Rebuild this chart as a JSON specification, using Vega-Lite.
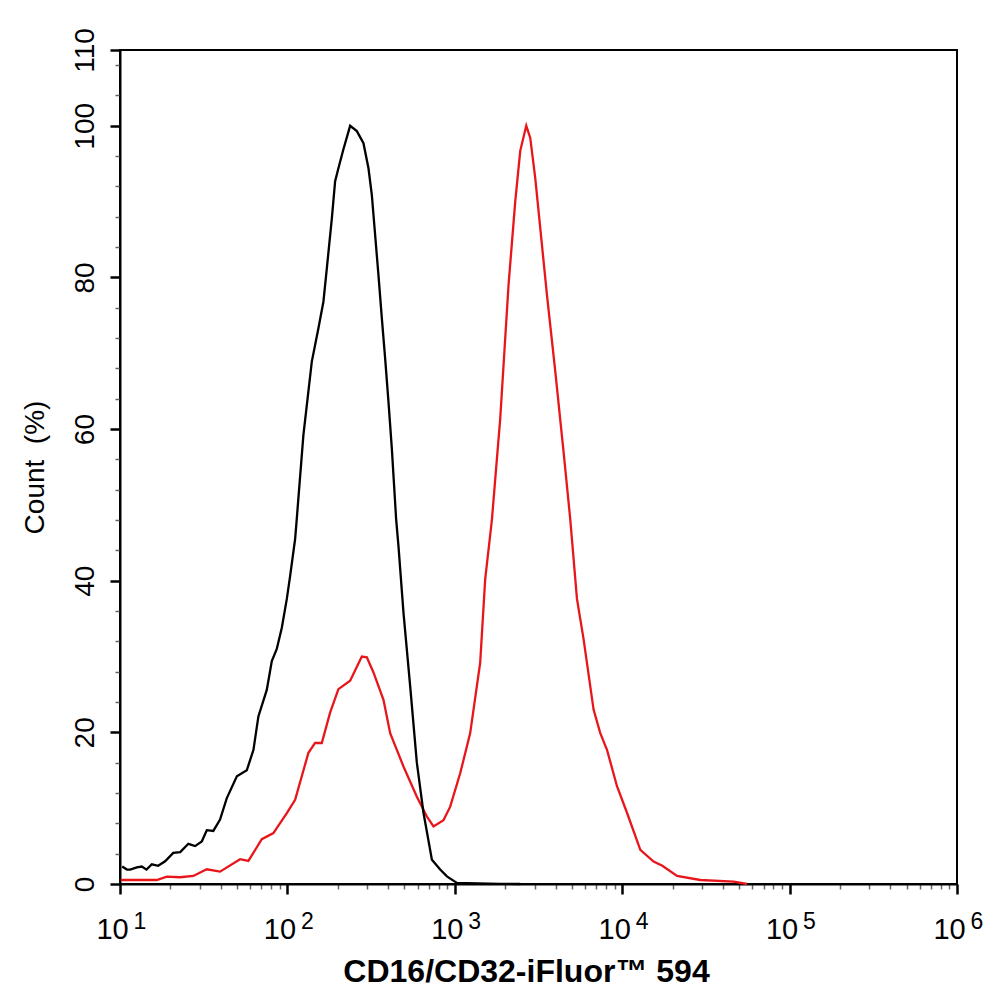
{
  "$schema": "https://vega.github.io/schema/vega-lite/v6.json",
  "width": 837,
  "height": 834,
  "autosize": "none",
  "padding": {"left": 120, "top": 50, "right": 37, "bottom": 118},
  "background": "white",
  "config": {
    "view": {"stroke": "black", "strokeWidth": 2},
    "font": "Liberation Sans",
    "axis": {"labelFont": "Liberation Sans", "titleFont": "Liberation Sans", "labelColor": "black", "titleColor": "black", "grid": false}
  },
  "datasets": {
    "control": [
      {"intensity": 10.3, "pct": 2.3}, {"intensity": 11.0, "pct": 1.9}, {"intensity": 11.5, "pct": 1.9},
      {"intensity": 12.6, "pct": 2.2}, {"intensity": 13.5, "pct": 2.3}, {"intensity": 14.4, "pct": 1.9},
      {"intensity": 15.5, "pct": 2.6}, {"intensity": 16.9, "pct": 2.4}, {"intensity": 18.6, "pct": 3.0},
      {"intensity": 20.8, "pct": 4.1}, {"intensity": 22.9, "pct": 4.2}, {"intensity": 25.6, "pct": 5.3},
      {"intensity": 28.1, "pct": 5.0}, {"intensity": 30.8, "pct": 5.6}, {"intensity": 33.0, "pct": 7.1},
      {"intensity": 36.1, "pct": 7.0}, {"intensity": 39.6, "pct": 8.5}, {"intensity": 43.4, "pct": 11.3},
      {"intensity": 49.9, "pct": 14.2}, {"intensity": 57.2, "pct": 15.0}, {"intensity": 62.7, "pct": 17.7},
      {"intensity": 67.1, "pct": 22.1}, {"intensity": 75.3, "pct": 25.6}, {"intensity": 80.7, "pct": 29.4},
      {"intensity": 86.4, "pct": 31.0}, {"intensity": 92.6, "pct": 33.8}, {"intensity": 99.2, "pct": 37.6},
      {"intensity": 103.8, "pct": 40.6}, {"intensity": 111.2, "pct": 45.5}, {"intensity": 113.7, "pct": 48.1},
      {"intensity": 124.6, "pct": 59.2}, {"intensity": 139.9, "pct": 68.9}, {"intensity": 153.2, "pct": 73.3},
      {"intensity": 164.1, "pct": 76.8}, {"intensity": 172.0, "pct": 81.2}, {"intensity": 184.3, "pct": 87.8},
      {"intensity": 192.8, "pct": 92.7}, {"intensity": 201.7, "pct": 94.4}, {"intensity": 216.1, "pct": 96.9},
      {"intensity": 237.0, "pct": 100.0}, {"intensity": 259.9, "pct": 99.3}, {"intensity": 284.7, "pct": 97.7},
      {"intensity": 305.0, "pct": 94.4}, {"intensity": 319.4, "pct": 90.9}, {"intensity": 334.3, "pct": 85.6},
      {"intensity": 349.9, "pct": 80.3}, {"intensity": 366.6, "pct": 74.6}, {"intensity": 383.7, "pct": 69.3},
      {"intensity": 401.6, "pct": 63.6}, {"intensity": 420.7, "pct": 57.4}, {"intensity": 446.3, "pct": 48.1},
      {"intensity": 460.7, "pct": 44.6}, {"intensity": 493.6, "pct": 35.8}, {"intensity": 541.2, "pct": 26.1},
      {"intensity": 593.3, "pct": 16.0}, {"intensity": 650.0, "pct": 9.4}, {"intensity": 729.8, "pct": 3.2},
      {"intensity": 817.7, "pct": 1.9}, {"intensity": 897.4, "pct": 1.0}, {"intensity": 1029, "pct": 0.15},
      {"intensity": 1181, "pct": 0.1}, {"intensity": 1868, "pct": 0.02}, {"intensity": 2460, "pct": 0}
    ],
    "stained": [
      {"intensity": 10.14, "pct": 0.53}, {"intensity": 13.17, "pct": 0.53}, {"intensity": 16.57, "pct": 0.53},
      {"intensity": 19.02, "pct": 0.97}, {"intensity": 22.84, "pct": 0.89}, {"intensity": 27.42, "pct": 1.06},
      {"intensity": 32.98, "pct": 1.94}, {"intensity": 39.6, "pct": 1.63}, {"intensity": 52.17, "pct": 3.27},
      {"intensity": 58.47, "pct": 3.04}, {"intensity": 70.31, "pct": 5.91}, {"intensity": 82.46, "pct": 6.71},
      {"intensity": 99.2, "pct": 9.35}, {"intensity": 111.2, "pct": 11.1}, {"intensity": 133.5, "pct": 17.3},
      {"intensity": 146.4, "pct": 18.6}, {"intensity": 160.5, "pct": 18.6}, {"intensity": 179.9, "pct": 22.6},
      {"intensity": 201.7, "pct": 25.7}, {"intensity": 237.0, "pct": 26.8}, {"intensity": 278.4, "pct": 30.0},
      {"intensity": 298.3, "pct": 29.9}, {"intensity": 326.7, "pct": 27.9}, {"intensity": 374.9, "pct": 24.3},
      {"intensity": 411.1, "pct": 19.9}, {"intensity": 493.6, "pct": 15.5}, {"intensity": 593.4, "pct": 11.5},
      {"intensity": 681.2, "pct": 8.9}, {"intensity": 745.9, "pct": 7.6}, {"intensity": 855.8, "pct": 8.4},
      {"intensity": 938.7, "pct": 10.2}, {"intensity": 1077, "pct": 14.6}, {"intensity": 1236, "pct": 19.9},
      {"intensity": 1418, "pct": 29.2}, {"intensity": 1519, "pct": 40.2}, {"intensity": 1667, "pct": 48.1},
      {"intensity": 1744, "pct": 53.4}, {"intensity": 1868, "pct": 61.4}, {"intensity": 2094, "pct": 79.0},
      {"intensity": 2296, "pct": 90.0}, {"intensity": 2460, "pct": 96.7}, {"intensity": 2672, "pct": 100.0},
      {"intensity": 2823, "pct": 98.4}, {"intensity": 3024, "pct": 93.1}, {"intensity": 3240, "pct": 86.5},
      {"intensity": 3552, "pct": 77.7}, {"intensity": 3983, "pct": 67.6}, {"intensity": 4464, "pct": 57.0},
      {"intensity": 4895, "pct": 48.1}, {"intensity": 5368, "pct": 37.6}, {"intensity": 5879, "pct": 32.3},
      {"intensity": 6745, "pct": 23.0}, {"intensity": 7396, "pct": 19.9}, {"intensity": 8111, "pct": 17.7},
      {"intensity": 9309, "pct": 12.9}, {"intensity": 10683, "pct": 9.4}, {"intensity": 12830, "pct": 4.5},
      {"intensity": 15400, "pct": 2.95}, {"intensity": 17370, "pct": 2.4}, {"intensity": 21270, "pct": 1.06},
      {"intensity": 29290, "pct": 0.53}, {"intensity": 46330, "pct": 0.3}, {"intensity": 55720, "pct": 0}
    ]
  },
  "layer": [
    {
      "data": {"name": "stained"},
      "mark": {"type": "line", "color": "#e8161b", "strokeWidth": 2.3},
      "encoding": {
        "x": {
          "field": "intensity", "type": "quantitative",
          "scale": {"type": "log", "domain": [10, 1000000], "nice": false},
          "axis": {
            "orient": "bottom",
            "values": [10, 100, 1000, 10000, 100000, 1000000],
            "labelExpr": "'' + round(log(datum.value) / LN10)",
            "ticks": false, "domain": false, "title": null,
            "labelFontSize": 23, "labelAlign": "left", "labelBaseline": "alphabetic",
            "labelOffset": 13, "labelPadding": 44,
            "labelOverlap": false, "labelFlush": false, "labelBound": false
          }
        },
        "y": {
          "field": "pct", "type": "quantitative",
          "scale": {"domain": [0, 110], "nice": false, "zero": true},
          "axis": {
            "values": [0, 4, 8, 12, 16, 20, 24, 28, 32, 36, 40, 44, 48, 52, 56, 60, 64, 68, 72, 76, 80, 84, 88, 92, 96, 100, 104, 108, 110],
            "labelExpr": "(datum.value % 20 === 0 || datum.value === 110) ? datum.label : ''",
            "tickSize": {"condition": {"test": "datum.value % 20 === 0 || datum.value === 110", "value": 10}, "value": 5},
            "tickColor": {"condition": {"test": "datum.value % 20 === 0 || datum.value === 110", "value": "black"}, "value": "#666666"},
            "tickWidth": {"condition": {"test": "datum.value % 20 === 0 || datum.value === 110", "value": 2.5}, "value": 1.5},
            "domainColor": "black", "domainWidth": 2,
            "labelFontSize": 28, "labelAngle": 270, "labelAlign": "center", "labelBaseline": "alphabetic",
            "labelPadding": 17,
            "labelOverlap": false, "labelFlush": false, "labelBound": false,
            "title": "Count \u00a0(%)",
            "titleFontSize": 28, "titleFontWeight": "normal", "titlePadding": 22
          }
        }
      }
    },
    {
      "data": {"name": "control"},
      "mark": {"type": "line", "color": "black", "strokeWidth": 2.3},
      "encoding": {
        "x": {
          "field": "intensity", "type": "quantitative",
          "scale": {"type": "log", "domain": [10, 1000000], "nice": false},
          "axis": {
            "orient": "bottom",
            "values": [10, 20, 30, 40, 50, 60, 70, 80, 90,
                       100, 200, 300, 400, 500, 600, 700, 800, 900,
                       1000, 2000, 3000, 4000, 5000, 6000, 7000, 8000, 9000,
                       10000, 20000, 30000, 40000, 50000, 60000, 70000, 80000, 90000,
                       100000, 200000, 300000, 400000, 500000, 600000, 700000, 800000, 900000,
                       1000000],
            "labelExpr": "indexof([10, 100, 1000, 10000, 100000, 1000000], datum.value) >= 0 ? '10' : ''",
            "tickSize": {"condition": {"test": "indexof([10, 100, 1000, 10000, 100000, 1000000], datum.value) >= 0", "value": 10}, "value": 5},
            "tickColor": {"condition": {"test": "indexof([10, 100, 1000, 10000, 100000, 1000000], datum.value) >= 0", "value": "black"}, "value": "#666666"},
            "tickWidth": {"condition": {"test": "indexof([10, 100, 1000, 10000, 100000, 1000000], datum.value) >= 0", "value": 2.5}, "value": 1.5},
            "domainColor": "black", "domainWidth": 2,
            "labelFontSize": 29, "labelAlign": "center", "labelBaseline": "alphabetic",
            "labelOffset": -8, "labelPadding": 44,
            "labelOverlap": false, "labelFlush": false, "labelBound": false,
            "title": "CD16/CD32-iFluor™ 594",
            "titleFontSize": 32, "titleFontWeight": "bold", "titlePadding": 12,
            "titleX": 406
          }
        },
        "y": {
          "field": "pct", "type": "quantitative",
          "scale": {"domain": [0, 110], "nice": false, "zero": true},
          "axis": {
            "values": [0, 4, 8, 12, 16, 20, 24, 28, 32, 36, 40, 44, 48, 52, 56, 60, 64, 68, 72, 76, 80, 84, 88, 92, 96, 100, 104, 108, 110],
            "labelExpr": "(datum.value % 20 === 0 || datum.value === 110) ? datum.label : ''",
            "tickSize": {"condition": {"test": "datum.value % 20 === 0 || datum.value === 110", "value": 10}, "value": 5},
            "tickColor": {"condition": {"test": "datum.value % 20 === 0 || datum.value === 110", "value": "black"}, "value": "#666666"},
            "tickWidth": {"condition": {"test": "datum.value % 20 === 0 || datum.value === 110", "value": 2.5}, "value": 1.5},
            "domainColor": "black", "domainWidth": 2,
            "labelFontSize": 28, "labelAngle": 270, "labelAlign": "center", "labelBaseline": "alphabetic",
            "labelPadding": 17,
            "labelOverlap": false, "labelFlush": false, "labelBound": false,
            "title": "Count \u00a0(%)",
            "titleFontSize": 28, "titleFontWeight": "normal", "titlePadding": 22
          }
        }
      }
    }
  ],
  "resolve": {"axis": {"x": "independent"}}
}
